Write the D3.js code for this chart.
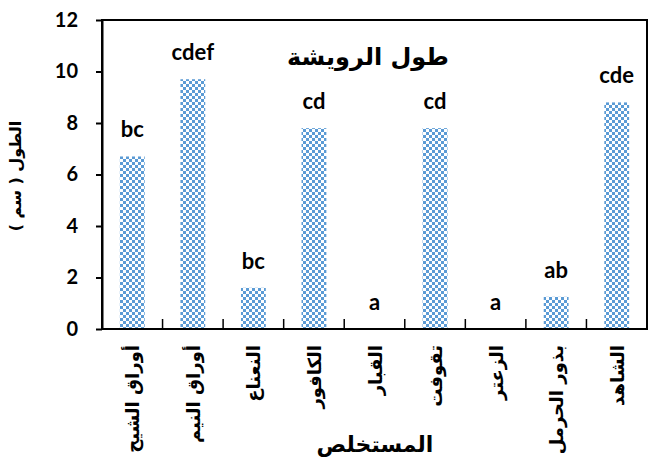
<!DOCTYPE html>
<html>
<head>
<meta charset="utf-8">
<script src="https://cdn.jsdelivr.net/npm/d3@7"></script>
<style>
  body { margin: 0; background: #fff; }
  svg { display: block; }
</style>
</head>
<body>
<div id="chart"></div>
<script>
// chart data
const categories = ["أوراق الشيح", "أوراق النيم", "النعناع", "الكافور", "القبار", "تقوفت", "الزعتر", "بذور الحرمل", "الشاهد"];
const values = [6.7, 9.7, 1.6, 7.8, 0, 7.8, 0, 1.25, 8.8];
const letters = ["bc", "cdef", "bc", "cd", "a", "cd", "a", "ab", "cde"];
const yTicks = [0, 2, 4, 6, 8, 10, 12];
const chartTitle = "طول الرويشة";
const xTitle = "المستخلص";
const yTitle = "الطول ( سم )";

const W = 657, H = 462;
const margin = {top: 20, right: 10, bottom: 133, left: 102};
const arabicFont = "'DejaVu Sans', sans-serif";
const latinFont = "Lato, 'Open Sans', sans-serif";

const svg = d3.select("#chart").append("svg")
  .attr("width", W)
  .attr("height", H);

const defs = svg.append("defs");
const pat = defs.append("pattern")
  .attr("id", "checker")
  .attr("patternUnits", "userSpaceOnUse")
  .attr("width", 6)
  .attr("height", 6);
pat.append("rect").attr("width", 6).attr("height", 6).attr("fill", "#fff");
pat.append("rect").attr("x", 0).attr("y", 0).attr("width", 3).attr("height", 3).attr("fill", "#5b9bd5");
pat.append("rect").attr("x", 3).attr("y", 3).attr("width", 3).attr("height", 3).attr("fill", "#5b9bd5");

const x = d3.scaleBand()
  .domain(categories)
  .range([margin.left, W - margin.right])
  .paddingInner(0.59)
  .paddingOuter(0.295);

const y = d3.scaleLinear()
  .domain([0, 12])
  .range([H - margin.bottom, margin.top]);

const step = x.step();

// bars
svg.selectAll(".bar")
  .data(values)
  .enter().append("rect")
  .attr("class", "bar")
  .attr("x", (d, i) => x(categories[i]))
  .attr("y", d => y(d))
  .attr("width", x.bandwidth())
  .attr("height", d => y(0) - y(d))
  .attr("fill", "url(#checker)");

// plot frame
svg.append("rect")
  .attr("x", margin.left)
  .attr("y", y(12))
  .attr("width", W - margin.right - margin.left)
  .attr("height", y(0) - y(12))
  .attr("fill", "none")
  .attr("stroke", "#000")
  .attr("stroke-width", 2);

// y axis
const yAxis = svg.append("g")
  .attr("transform", `translate(${margin.left},0)`)
  .call(d3.axisLeft(y).tickValues(yTicks).tickSize(6).tickSizeOuter(0).tickPadding(18));
yAxis.select(".domain").attr("stroke-width", 2);
yAxis.selectAll(".tick line").attr("stroke-width", 2);
yAxis.selectAll("text")
  .attr("font-family", latinFont)
  .attr("font-weight", "bold")
  .attr("font-size", 20)
  .attr("fill", "#000");

// x axis ticks (category separators, inside)
const seps = d3.range(1, categories.length);
svg.selectAll(".sep")
  .data(seps)
  .enter().append("line")
  .attr("x1", i => margin.left + i * step)
  .attr("x2", i => margin.left + i * step)
  .attr("y1", y(0))
  .attr("y2", y(0) - 10)
  .attr("stroke", "#000")
  .attr("stroke-width", 1.5);

// x category labels (rotated)
svg.selectAll(".xlab")
  .data(categories)
  .enter().append("text")
  .attr("class", "xlab")
  .attr("transform", d => `translate(${x(d) + x.bandwidth() / 2 + 7},${y(0) + 16}) rotate(-90)`)
  .attr("text-anchor", "end")
  .attr("font-family", arabicFont)
  .attr("font-weight", "bold")
  .attr("font-size", 18)
  .text(d => d);

// significance letters
svg.selectAll(".letter")
  .data(values)
  .enter().append("text")
  .attr("x", (d, i) => x(categories[i]) + x.bandwidth() / 2)
  .attr("y", d => y(d) - 19)
  .attr("text-anchor", "middle")
  .attr("font-family", latinFont)
  .attr("font-weight", "bold")
  .attr("font-size", 22)
  .text((d, i) => letters[i]);

// titles
svg.append("text")
  .attr("x", 368)
  .attr("y", 65)
  .attr("text-anchor", "middle")
  .attr("font-family", arabicFont)
  .attr("font-weight", "bold")
  .attr("font-size", 24)
  .text(chartTitle);

svg.append("text")
  .attr("x", 375)
  .attr("y", 452)
  .attr("text-anchor", "middle")
  .attr("font-family", arabicFont)
  .attr("font-weight", "bold")
  .attr("font-size", 22)
  .text(xTitle);

svg.append("text")
  .attr("transform", "translate(21,176) rotate(-90)")
  .attr("text-anchor", "middle")
  .attr("font-family", arabicFont)
  .attr("font-weight", "bold")
  .attr("font-size", 16)
  .text(yTitle);
</script>
</body>
</html>
